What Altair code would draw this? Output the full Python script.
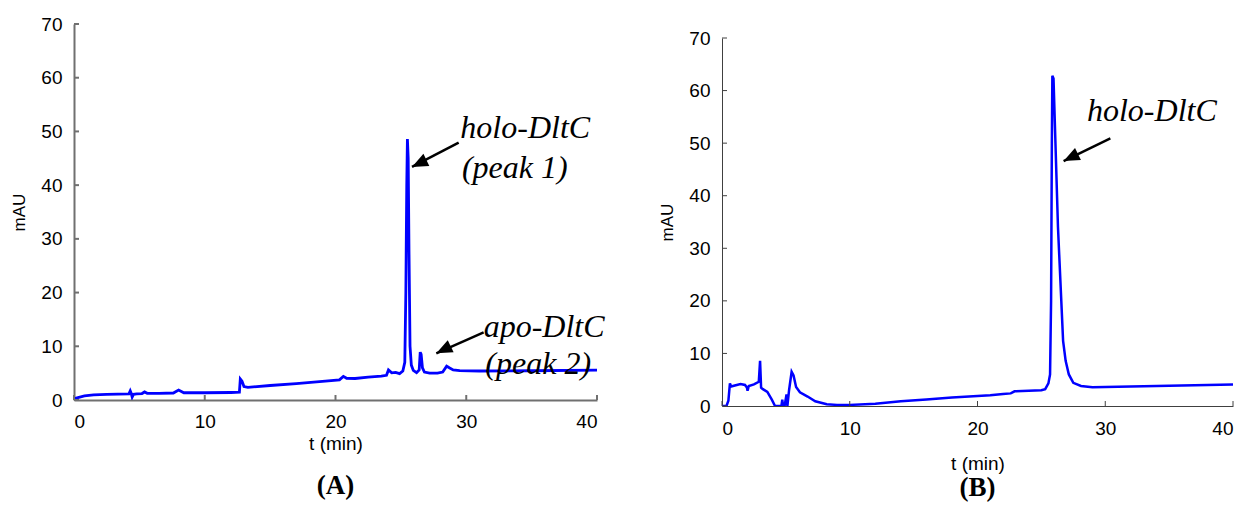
import altair as alt
import pandas as pd

# ---------------- data ----------------
# Panel A chromatogram
t_a = [0.0, 0.3, 0.8, 1.5, 2.5, 4.2, 4.3, 4.38, 4.45, 4.55, 4.8, 5.2, 5.4, 5.6, 6.5, 7.6, 8.0, 8.4,
       10.0, 12.0, 12.65, 12.72, 12.85, 13.0, 13.3, 15.0, 17.0, 19.0, 20.3, 20.6, 20.85, 21.5, 22.5,
       23.5, 23.9, 24.05, 24.3, 24.6, 24.9, 25.15, 25.3, 25.38, 25.45, 25.5, 25.56, 25.62, 25.7, 25.8,
       25.95, 26.2, 26.4, 26.48, 26.55, 26.65, 26.8, 27.2, 27.8, 28.2, 28.5, 28.7, 29.0, 29.5, 31.0,
       35.0, 40.0]
v_a = [0.25, 0.45, 0.75, 0.95, 1.05, 1.15, 1.7, 1.2, 0.55, 1.05, 1.15, 1.2, 1.5, 1.25, 1.25, 1.3, 1.85, 1.35,
       1.35, 1.4, 1.45, 3.9, 3.5, 2.5, 2.35, 2.7, 3.05, 3.45, 3.75, 4.4, 4.05, 4.0, 4.25,
       4.45, 4.6, 5.6, 5.05, 5.15, 4.9, 5.4, 7.0, 20.0, 40.0, 48.6, 45.0, 28.0, 10.0, 6.5,
       5.5, 5.1, 5.6, 8.9, 8.5, 6.0, 5.2, 5.0, 5.0, 5.2, 6.3, 6.0, 5.6, 5.45, 5.4,
       5.45, 5.55]

# Panel B chromatogram
t_b = [0.0, 0.35, 0.5, 0.62, 0.72, 1.0, 1.45, 1.8, 1.95, 2.0, 2.1, 2.5, 2.88, 2.98, 3.06, 3.2, 3.55,
       3.9, 4.15, 4.65, 4.72, 4.78, 4.9, 5.05, 5.12, 5.25, 5.45, 5.6, 5.8, 6.1, 6.7, 7.3, 8.2, 9.0,
       10.0, 12.0, 14.0, 16.0, 18.0, 20.0, 21.0, 22.0, 22.6, 22.9, 24.0, 25.0, 25.3, 25.55, 25.68,
       25.76, 25.82, 25.86, 25.95, 26.3, 26.7, 26.9, 27.15, 27.5, 28.1, 29.0, 32.0, 36.0, 40.0]
v_b = [0.0, 0.0, 1.0, 4.3, 3.7, 3.9, 4.2, 4.0, 3.5, 2.9, 3.8, 4.1, 4.6, 8.6, 3.5, 3.2, 2.7,
       1.2, 0.0, 0.0, 1.2, 0.0, 0.0, 2.2, 0.0, 3.0, 6.5, 5.8, 3.6, 2.6, 1.8, 0.9, 0.35, 0.2,
       0.2, 0.45, 0.9, 1.25, 1.6, 1.9, 2.05, 2.3, 2.4, 2.8, 2.9, 3.0, 3.2, 4.3, 6.0,
       20.0, 50.0, 62.8, 62.3, 34.0, 12.4, 8.6, 6.0, 4.4, 3.8, 3.55, 3.7, 3.9, 4.1]

x_ticks = [0, 10, 20, 30, 40]
y_ticks = [0, 10, 20, 30, 40, 50, 60, 70]

# annotations (text and arrows, in data units)
lab_a_text = ["holo-DltC", "(peak 1)", "apo-DltC", "(peak 2)"]
lab_a_t = [29.55, 29.67, 31.33, 31.46]
lab_a_v = [50.6, 43.2, 13.6, 6.7]
arr_a_t0 = [29.42, 31.33]
arr_a_v0 = [47.9, 12.6]
arr_a_t1 = [25.85, 27.71]
arr_a_v1 = [43.4, 8.7]

lab_b_text = ["holo-DltC"]
lab_b_t = [28.57]
lab_b_v = [56.1]
arr_b_t0 = [30.40]
arr_b_v0 = [50.9]
arr_b_t1 = [26.74]
arr_b_v1 = [46.6]

# ---------------- styling ----------------
SANS = "Liberation Sans"
SERIF = "Liberation Serif"
BLUE = "#0000ff"
HEAD = "M0,0L-0.42,1L0.42,1Z"


def panel(t, v, lt, lv, ltext, at0, av0, at1, av1, w, h, axcol, axw, lw, tag,
          xlabpad, xtitlepad, tagoff):
    xs = alt.Scale(domain=[0, 40], nice=False)
    ys = alt.Scale(domain=[0, 70], nice=False)
    common = dict(grid=False, domainColor=axcol, domainWidth=axw, ticks=False,
                  labelFont=SANS, labelFontSize=19, labelColor="black",
                  titleFont=SANS, titleFontWeight="normal", titleColor="black")
    xax = alt.Axis(values=x_ticks, labelPadding=xlabpad, titlePadding=xtitlepad,
                   title="t (min)", titleFontSize=19, **common)
    yax = alt.Axis(values=y_ticks, labelPadding=12, titlePadding=12,
                   title="mAU", titleFontSize=17, **common)
    line = alt.Chart(pd.DataFrame({"t": t, "v": v})).mark_line(
        color=BLUE, strokeWidth=lw, clip=True
    ).encode(
        x=alt.X("t:Q", scale=xs, axis=xax),
        y=alt.Y("v:Q", scale=ys, axis=yax),
        order=alt.Order("t:Q"),
    )
    xt = alt.Chart(pd.DataFrame({"t": x_ticks})).mark_rule(color=axcol, strokeWidth=axw).encode(
        x="t:Q", y=alt.value(h), y2=alt.value(h - 5))
    yt = alt.Chart(pd.DataFrame({"v": y_ticks})).mark_rule(color=axcol, strokeWidth=axw).encode(
        y="v:Q", x=alt.value(0), x2=alt.value(5))
    txt = alt.Chart(pd.DataFrame({"t": lt, "v": lv, "s": ltext})).mark_text(
        font=SERIF, fontStyle="italic", fontSize=32, align="left", baseline="middle", color="black"
    ).encode(x="t:Q", y="v:Q", text="s:N")
    adf = pd.DataFrame({"t0": at0, "v0": av0, "t1": at1, "v1": av1})
    shaft = alt.Chart(adf).mark_rule(color="black", strokeWidth=2.5).encode(
        x="t0:Q", y="v0:Q", x2="t1:Q", y2="v1:Q")
    head = alt.Chart(adf).mark_point(shape=HEAD, filled=True, color="black", opacity=1,
                                     strokeWidth=0).encode(
        x="t1:Q", y="v1:Q", size=alt.value(1024), angle=alt.value(244))
    return alt.layer(line, xt, yt, shaft, head, txt).properties(
        width=w, height=h,
        title=alt.TitleParams(tag, orient="bottom", anchor="middle", frame="group",
                              font=SERIF, fontSize=27, fontWeight="bold", color="black",
                              offset=tagoff),
    )


pa = panel(t_a, v_a, lab_a_t, lab_a_v, lab_a_text, arr_a_t0, arr_a_v0, arr_a_t1, arr_a_v1,
           523, 376, "#707070", 2, 2.8, "(A)", 12, 3, 20)
pb = panel(t_b, v_b, lab_b_t, lab_b_v, lab_b_text, arr_b_t0, arr_b_v0, arr_b_t1, arr_b_v1,
           511, 368, "#404040", 1, 2.5, "(B)", 13, 16, 2)

spacer = alt.Chart(pd.DataFrame({"s": [0]})).mark_point(opacity=0).encode(
    x=alt.X("s:Q", axis=None), y=alt.Y("s:Q", axis=None)
).properties(width=511, height=4)

right = alt.vconcat(spacer, pb, spacing=0)

chart = alt.hconcat(pa, right, spacing=53).properties(
    padding={"left": 2, "top": 7, "right": 0, "bottom": 5}
).configure_view(stroke=None)

chart.save("out.html", embed_options={"renderer": "svg", "actions": False})
